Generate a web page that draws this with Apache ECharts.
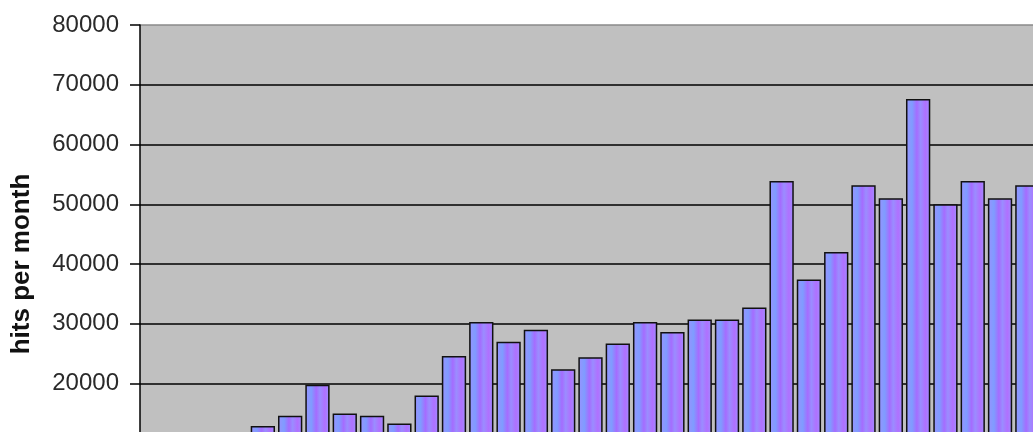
<!DOCTYPE html>
<html>
<head>
<meta charset="utf-8">
<script src="https://cdn.jsdelivr.net/npm/echarts@6/dist/echarts.min.js"></script>
<style>html,body{margin:0;padding:0;background:#fff;}#c{width:1033px;height:432px;}</style>
</head>
<body>
<div id="c"></div>
<script>
// Month indices (category labels are not visible in the cropped picture)
const months = ['m1','m2','m3','m4','m5','m6','m7','m8','m9','m10','m11','m12','m13','m14','m15','m16','m17','m18','m19','m20','m21','m22','m23','m24','m25','m26','m27','m28','m29','m30','m31','m32','m33'];
// Hits per month (first four are below the visible crop; estimated)
const hits = [3000, 5000, 7000, 9500, 12900, 14600, 19800, 15000, 14600, 13300, 18000, 24600, 30300, 27000, 29000, 22400, 24400, 26700, 30300, 28600, 30700, 30700, 32700, 53900, 37400, 42000, 53200, 51000, 67600, 50000, 53900, 51000, 53200];
const yTicks = [0, 10000, 20000, 30000, 40000, 50000, 60000, 70000, 80000];

const chart = echarts.init(document.getElementById('c'), null, {renderer: 'canvas'});
chart.setOption({
  animation: false,
  backgroundColor: '#ffffff',
  grid: {left: 140, top: 25, width: 901, height: 478, outerBoundsMode: 'none', containLabel: false, show: true, backgroundColor: '#c0c0c0', borderWidth: 0},
  xAxis: {
    type: 'category',
    data: months,
    axisLine: {show: false},
    axisTick: {show: false},
    axisLabel: {show: false},
    splitLine: {show: false}
  },
  yAxis: {
    type: 'value',
    min: yTicks[0],
    max: yTicks[yTicks.length - 1],
    interval: 10000,
    name: 'hits per month',
    nameLocation: 'middle',
    nameGap: 105,
    nameTextStyle: {fontFamily: 'Liberation Sans, Arial, sans-serif', fontSize: 26, fontWeight: 'bold', color: '#111'},
    axisLine: {show: true, lineStyle: {color: '#000', width: 1.5}},
    axisTick: {show: true, inside: false, length: 10, lineStyle: {color: '#000', width: 1.5}},
    axisLabel: {margin: 21, fontFamily: 'Liberation Sans, Arial, sans-serif', fontSize: 24, color: '#2a2a2a', formatter: function (v) { return String(v); }},
    splitLine: {show: true, lineStyle: {color: ['#000','#000','#000','#000','#000','#000','#000','#000','#8a8a8a'], width: 1.5}}
  },
  series: [{
    type: 'bar',
    data: hits,
    barCategoryGap: '11%',
    itemStyle: {
      borderColor: '#111',
      borderWidth: 1.5,
      color: new echarts.graphic.LinearGradient(0, 0, 1, 0, [
        {offset: 0, color: '#9a92ff'},
        {offset: 0.25, color: '#7f9cff'},
        {offset: 0.45, color: '#a56cff'},
        {offset: 0.6, color: '#9a8dff'},
        {offset: 0.8, color: '#b070ff'},
        {offset: 1, color: '#9c90ff'}
      ])
    }
  }]
});
</script>
</body>
</html>
